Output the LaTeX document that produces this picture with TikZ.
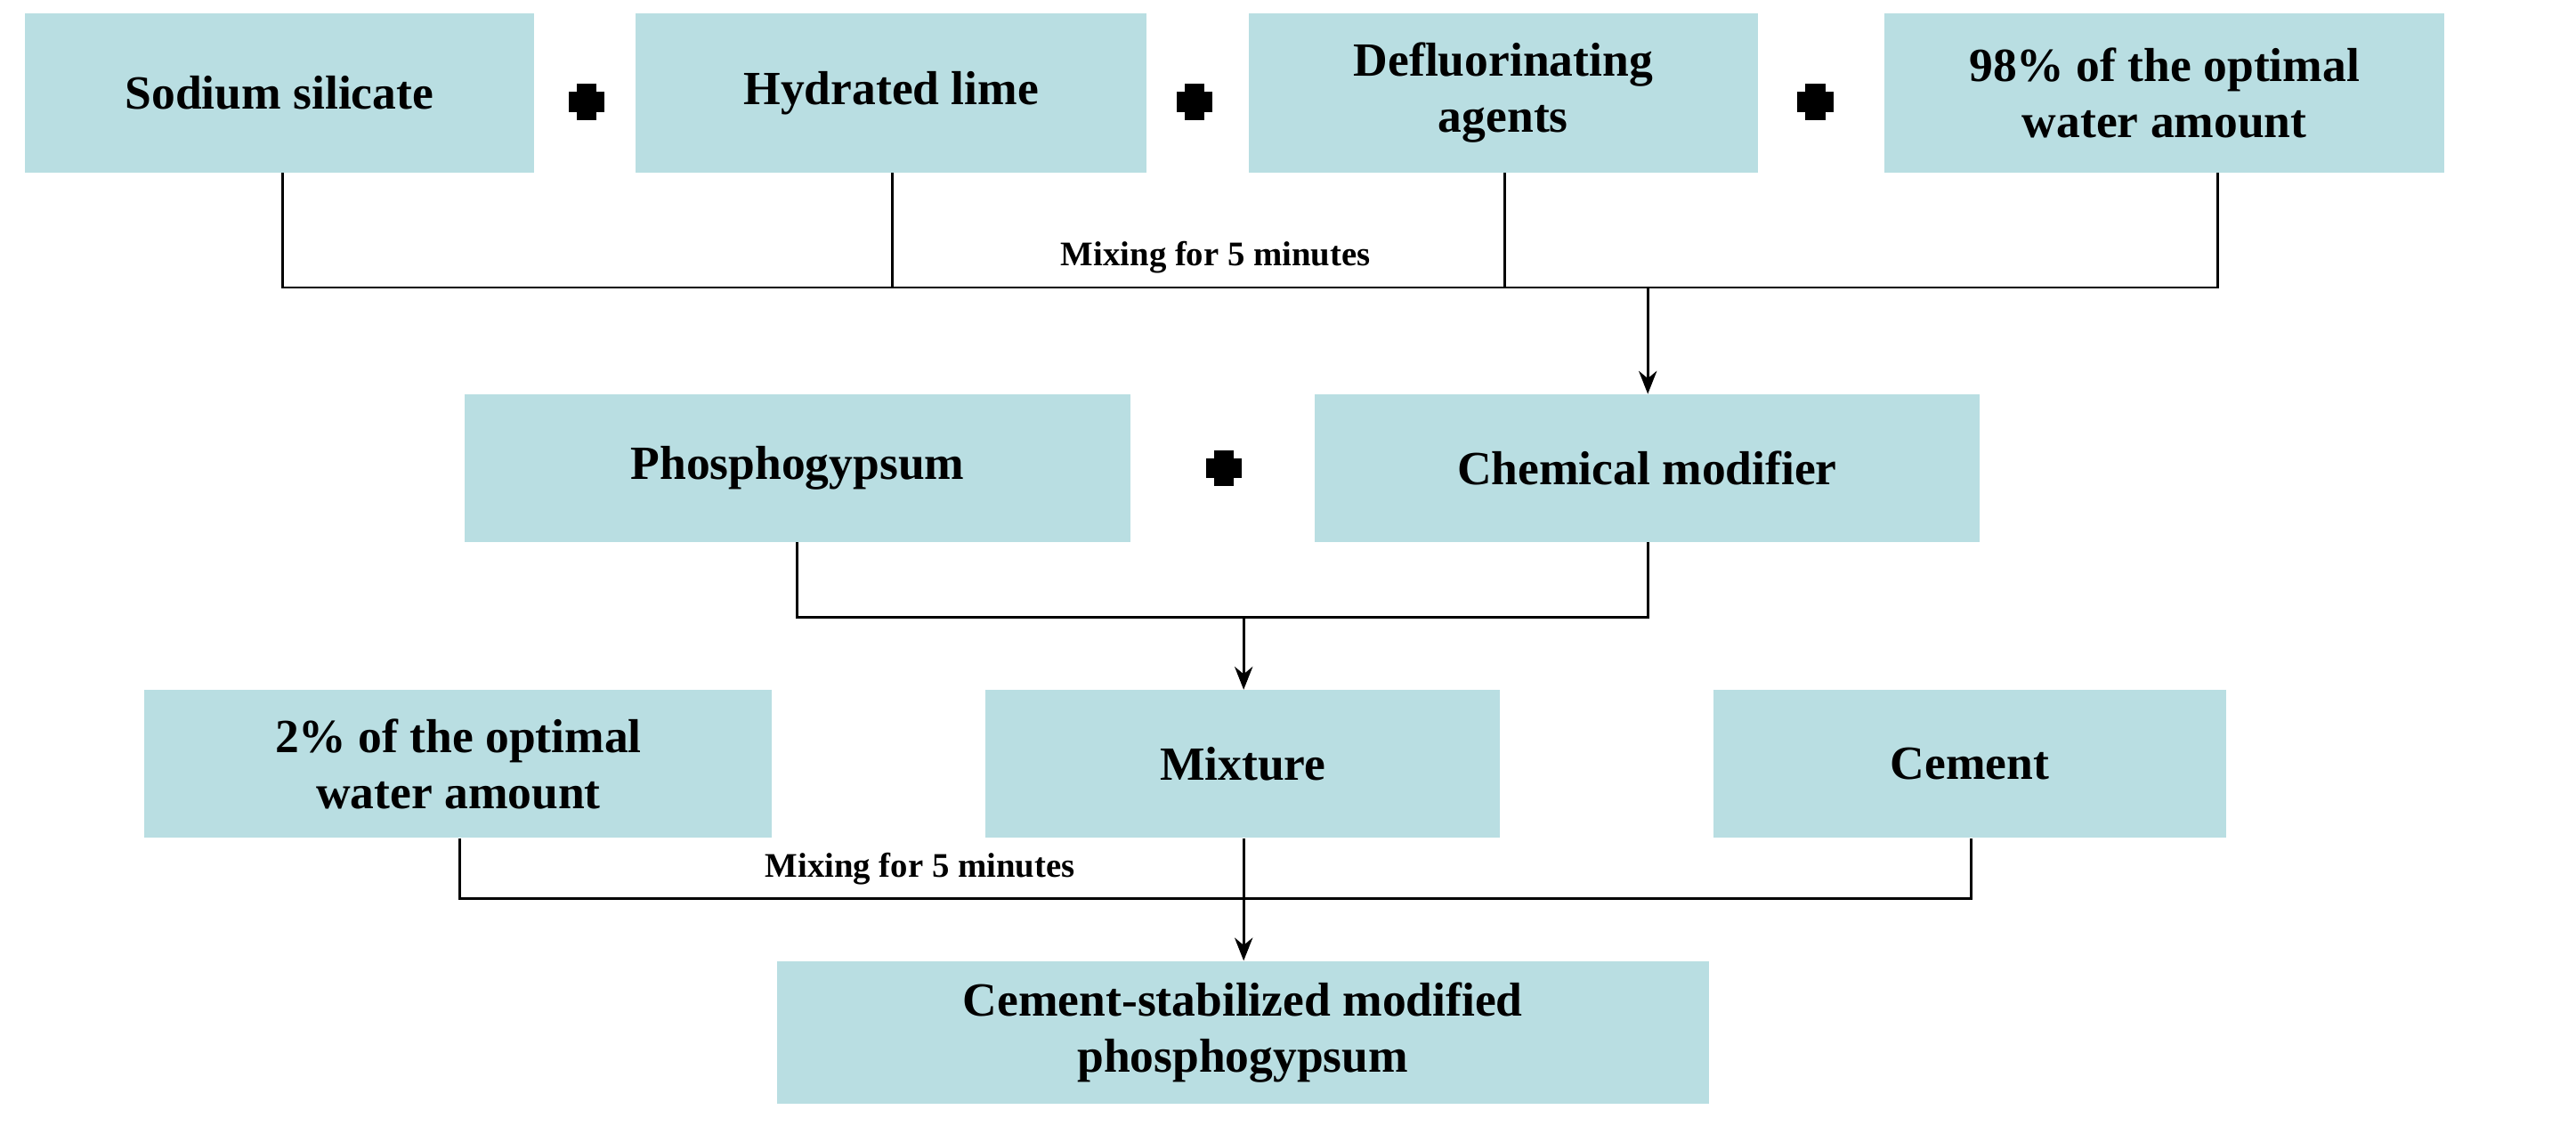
\documentclass[tikz,border=0pt]{standalone}
\usepackage{fontspec}
\setmainfont{Liberation Serif}
\usetikzlibrary{arrows.meta}
\begin{document}
\begin{tikzpicture}[x=1pt,y=-1pt,
  box/.style={fill=boxc,draw=none,inner sep=0pt,align=center,font=\fontsize{29}{34}\selectfont\bfseries},
  lab/.style={font=\fontsize{21}{24}\selectfont\bfseries},
  ln/.style={line width=1.6pt},
  arr/.style={line width=1.6pt,-{Stealth[length=14pt,width=11pt]}},
  plus/.style={fill=black,draw=none}]
\definecolor{boxc}{RGB}{185,222,226}
\useasboundingbox (0,0) rectangle (1568,690);
\newcommand{\mybox}[6]{\node[box,minimum width=#4-#3,minimum height=#6-#5] (#1) at ({(#3+#4)/2},{(#5+#6)/2}) {#2};}
\mybox{a}{Sodium silicate}{15}{325}{8}{105}
\mybox{b}{Hydrated lime}{387}{698}{8}{105}
\mybox{c}{Defluorinating\\agents}{760}{1070}{8}{105}
\mybox{d}{98\% of the optimal\\water amount}{1147}{1488}{8}{105}
\mybox{p}{Phosphogypsum}{283}{688}{240}{330}
\mybox{q}{Chemical modifier}{800}{1205}{240}{330}
\mybox{w}{2\% of the optimal\\water amount}{88}{470}{420}{510}
\mybox{m}{Mixture}{600}{913}{420}{510}
\mybox{e}{Cement}{1043}{1355}{420}{510}
\mybox{f}{Cement-stabilized modified\\phosphogypsum}{473}{1040}{585}{672}
\foreach \x/\y/\n in {357/62/p1,727/62/p2,1105/62/p3,745/285/p4}{
  \fill[plus] (\x-6,\y-11) rectangle (\x+6,\y+11);
  \fill[plus] (\x-11,\y-6) rectangle (\x+11,\y+6);
  \coordinate (\n) at (\x,\y);}
% top merge
\coordinate (h1) at (172,175); \coordinate (h2) at (543,175);
\coordinate (h3) at (916,175); \coordinate (h4) at (1350,175);
\coordinate (h5) at (1003,175);
\draw[ln] (a.south -| h1) -- (h1) -- (h4) -- (d.south -| h4);
\draw[ln] (b.south -| h2) -- (h2);
\draw[ln] (c.south -| h3) -- (h3);
\draw[arr] (h5) -- (q.north -| h5);
\node[lab,anchor=south] (l1) at (740,170) {Mixing for 5 minutes};
% middle merge
\coordinate (g1) at (485,376); \coordinate (g2) at (1003,376); \coordinate (g3) at (757,376);
\draw[ln] (p.south -| g1) -- (g1) -- (g2) -- (q.south -| g2);
\draw[arr] (g3) -- (m.north -| g3);
% bottom merge
\coordinate (k1) at (280,547); \coordinate (k2) at (1200,547); \coordinate (k3) at (757,547);
\draw[ln] (w.south -| k1) -- (k1) -- (k2) -- (e.south -| k2);
\draw[arr] (m.south -| k3) -- (f.north -| k3);
\node[lab,anchor=south] (l2) at (560,542) {Mixing for 5 minutes};
\end{tikzpicture}
\end{document}
